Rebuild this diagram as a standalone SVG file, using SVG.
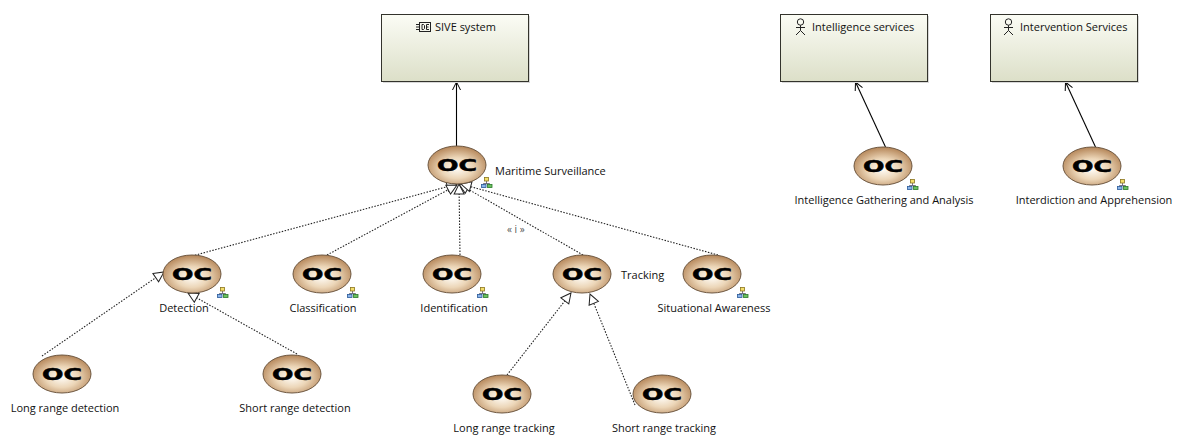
<svg xmlns="http://www.w3.org/2000/svg" width="1185" height="444" viewBox="0 0 1185 444">
<style>
text{font-family:"Open Sans","Noto Sans","Liberation Sans",sans-serif;font-size:11px;fill:#111}
.mid{text-anchor:middle}
.oc{font-family:"DejaVu Sans",sans-serif;font-weight:bold;font-size:16px;fill:#000;stroke:#000;stroke-width:0.5;text-anchor:middle}
.el{fill:url(#ocg);stroke:#6e5740;stroke-width:1}
.box{fill:url(#boxg);stroke:#33332c;stroke-width:1}
.shadow{fill:#d8d8d8}
.solid{fill:none;stroke:#000;stroke-width:1.1;marker-end:url(#open)}
.dot{fill:none;stroke:#222;stroke-width:1.1;stroke-dasharray:1.5 1.5}
.gen{marker-end:url(#tri)}
.ic{fill:none;stroke:#222;stroke-width:1}
</style>
<defs>
<radialGradient id="ocg" cx="50%" cy="58%" r="55%">
<stop offset="0" stop-color="#fffdf8"/><stop offset="0.5" stop-color="#ecd6b8"/><stop offset="1" stop-color="#b98c60"/>
</radialGradient>
<linearGradient id="boxg" x1="0" y1="0" x2="0" y2="1">
<stop offset="0" stop-color="#fbfcf5"/><stop offset="1" stop-color="#dcdfc8"/>
</linearGradient>
<marker id="open" markerUnits="userSpaceOnUse" markerWidth="12" markerHeight="12" refX="10" refY="6" orient="auto">
<path d="M2 2L10 6L2 10" fill="none" stroke="#000" stroke-width="1"/>
</marker>
<marker id="tri" markerUnits="userSpaceOnUse" markerWidth="14" markerHeight="14" refX="12" refY="7" orient="auto">
<path d="M2 2L12 7L2 12Z" fill="#fff" stroke="#222" stroke-width="1"/>
</marker>
<g id="tree">
<path d="M5.500 4V6.500M2.500 8V6.500H8.500V8" fill="none" stroke="#556" stroke-width="0.8"/>
<rect x="3.500" y="0.500" width="4" height="3.500" fill="#f4df6a" stroke="#8a7420" stroke-width="0.8"/>
<rect x="0.500" y="7.500" width="4.500" height="3" fill="#8ab4e8" stroke="#2a5a9a" stroke-width="0.8"/>
<rect x="6.500" y="7.500" width="4.500" height="3" fill="#6cc060" stroke="#2a7a2a" stroke-width="0.8"/>
</g>
</defs>
<rect width="1185" height="444" fill="#fff"/>
<g id="connectors">
<path class="solid" d="M456.500 146V82"/>
<path class="solid" d="M885.500 147L855.500 82"/>
<path class="solid" d="M1095.500 147L1065.500 82"/>
<path class="dot gen" d="M192 256L457 184"/>
<path class="dot gen" d="M327 255L457 185"/>
<path class="dot gen" d="M460 255L459 184"/>
<path class="dot gen" d="M583 255L459 184"/>
<path class="dot gen" d="M718 255L461 184"/>
<path class="dot gen" d="M42 356L164 272"/>
<path class="dot gen" d="M297 354L188 293"/>
<path class="dot gen" d="M507 375L571 293"/>
<path class="dot gen" d="M635 405L590 294"/>
</g>
<g id="sive"><rect class="shadow" x="383" y="16" width="147" height="67"/><rect class="box" x="381.500" y="14.500" width="147" height="67"/>
<rect class="ic" x="419.500" y="22.500" width="11" height="9"/><path class="ic" d="M416 24.500h3M416 27h3M416 29.500h3M422 24.500v5h1.500l1-1v-3l-1-1zM429 24.500h-2.500v5h2.500M426.500 27h2"/>
<text x="435" y="31">SIVE system</text></g>
<g id="intelligence-services"><rect class="shadow" x="782" y="16" width="147" height="67"/><rect class="box" x="780.500" y="14.500" width="147" height="67"/>
<circle class="ic" cx="800.500" cy="22" r="3.200"/><path class="ic" d="M800.500 25.200V30.500M796 27.500H805M796 35L800.500 30.500L805 35"/>
<text x="812" y="31">Intelligence services</text></g>
<g id="intervention-services"><rect class="shadow" x="992" y="16" width="147" height="67"/><rect class="box" x="990.500" y="14.500" width="147" height="67"/>
<circle class="ic" cx="1008.500" cy="22" r="3.200"/><path class="ic" d="M1008.500 25.200V30.500M1004 27.500H1013M1004 35L1008.500 30.500L1013 35"/>
<text x="1020" y="31">Intervention Services</text></g>
<g id="maritime"><ellipse class="el" cx="457" cy="165" rx="29" ry="19"/><text class="oc" x="457" y="171" textLength="40" lengthAdjust="spacingAndGlyphs">OC</text><use href="#tree" x="481" y="177"/><text x="495" y="175">Maritime Surveillance</text></g>
<g id="detection"><ellipse class="el" cx="192" cy="274" rx="29" ry="19"/><text class="oc" x="192" y="280" textLength="40" lengthAdjust="spacingAndGlyphs">OC</text><use href="#tree" x="217" y="287"/><text class="mid" x="184" y="312">Detection</text></g>
<g id="classification"><ellipse class="el" cx="322" cy="274" rx="29" ry="19"/><text class="oc" x="322" y="280" textLength="40" lengthAdjust="spacingAndGlyphs">OC</text><use href="#tree" x="347" y="287"/><text class="mid" x="323" y="312">Classification</text></g>
<g id="identification"><ellipse class="el" cx="452" cy="274" rx="29" ry="19"/><text class="oc" x="452" y="280" textLength="40" lengthAdjust="spacingAndGlyphs">OC</text><use href="#tree" x="477" y="287"/><text class="mid" x="454" y="312">Identification</text></g>
<g id="tracking"><ellipse class="el" cx="582" cy="274" rx="29" ry="19"/><text class="oc" x="582" y="280" textLength="40" lengthAdjust="spacingAndGlyphs">OC</text><text x="621" y="279">Tracking</text></g>
<g id="situational"><ellipse class="el" cx="712" cy="274" rx="29" ry="19"/><text class="oc" x="712" y="280" textLength="40" lengthAdjust="spacingAndGlyphs">OC</text><use href="#tree" x="737" y="287"/><text class="mid" x="714" y="312">Situational Awareness</text></g>
<g id="long-detection"><ellipse class="el" cx="62" cy="374" rx="29" ry="19"/><text class="oc" x="62" y="380" textLength="40" lengthAdjust="spacingAndGlyphs">OC</text><text class="mid" x="65" y="412">Long range detection</text></g>
<g id="short-detection"><ellipse class="el" cx="292" cy="374" rx="29" ry="19"/><text class="oc" x="292" y="380" textLength="40" lengthAdjust="spacingAndGlyphs">OC</text><text class="mid" x="295" y="412">Short range detection</text></g>
<g id="long-tracking"><ellipse class="el" cx="502" cy="394" rx="29" ry="19"/><text class="oc" x="502" y="400" textLength="40" lengthAdjust="spacingAndGlyphs">OC</text><text class="mid" x="504" y="432">Long range tracking</text></g>
<g id="short-tracking"><ellipse class="el" cx="662" cy="394" rx="29" ry="19"/><text class="oc" x="662" y="400" textLength="40" lengthAdjust="spacingAndGlyphs">OC</text><text class="mid" x="664" y="432">Short range tracking</text></g>
<g id="intelligence-gathering"><ellipse class="el" cx="883" cy="166" rx="29" ry="19"/><text class="oc" x="883" y="172" textLength="40" lengthAdjust="spacingAndGlyphs">OC</text><use href="#tree" x="907" y="179"/><text class="mid" x="884" y="204">Intelligence Gathering and Analysis</text></g>
<g id="interdiction"><ellipse class="el" cx="1092" cy="166" rx="29" ry="19"/><text class="oc" x="1092" y="172" textLength="40" lengthAdjust="spacingAndGlyphs">OC</text><use href="#tree" x="1117" y="179"/><text class="mid" x="1094" y="204">Interdiction and Apprehension</text></g>
<text x="507" y="233" style="font-size:10px;fill:#555">« i »</text>
</svg>
